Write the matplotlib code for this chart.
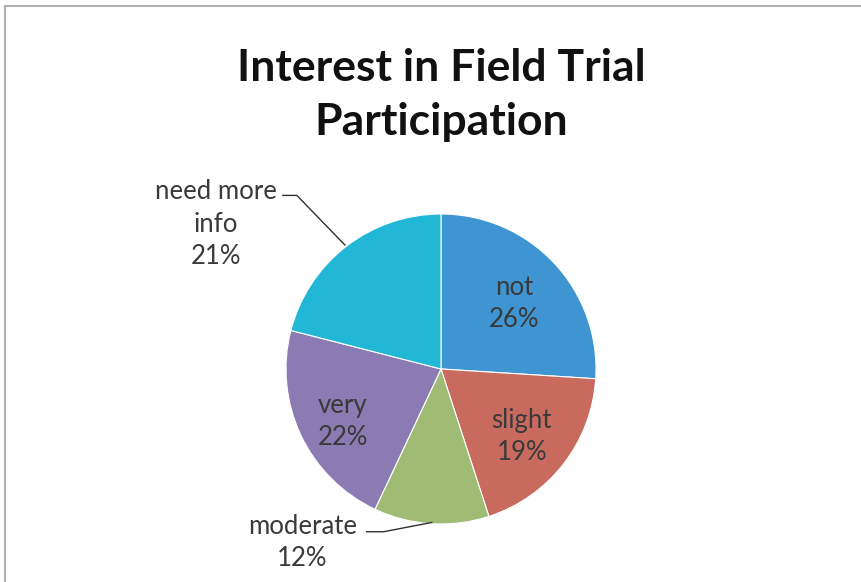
import matplotlib
matplotlib.use("Agg")
import matplotlib.pyplot as plt
from matplotlib.lines import Line2D
import numpy as np

categories = ["not", "slight", "moderate", "very", "need more info"]
values = [26, 19, 12, 22, 21]
colors = ["#3E95D2", "#C96A5F", "#9FBB74", "#8A7BB2", "#22B7D6"]

W, H = 862, 582
fig = plt.figure(figsize=(W / 100, H / 100), dpi=100)
fig.patch.set_facecolor("white")

# frame lines (top and left)
fig.add_artist(Line2D([5 / W, 1], [1 - 6 / H, 1 - 6 / H], color="#A0A0A0", lw=1.2))
fig.add_artist(Line2D([5 / W, 5 / W], [0, 1 - 6 / H], color="#A0A0A0", lw=1.2))

cx, cy, r = 441, 369, 155
ax = fig.add_axes([(cx - r) / W, (H - cy - r) / H, 2 * r / W, 2 * r / H])
wedges, _ = ax.pie(values, colors=colors, startangle=90, counterclock=False,
                   radius=1, wedgeprops=dict(linewidth=0.8, edgecolor="white"))
ax.set_xlim(-1, 1)
ax.set_ylim(-1, 1)
ax.set_aspect("equal")
ax.axis("off")

txtc = "#3A3A3A"
font = "Lato"
fs = 18.5
ls = 1.38
total = sum(values)
start = 90.0
# label radius and small vertical nudge (axes units)
inside = {"not": (0.645, -0.02), "slight": (0.66, -0.03), "very": (0.70, -0.04)}
for cat, v in zip(categories, values):
    ang = start - 360 * v / total / 2
    start -= 360 * v / total
    label = f"{cat}\n{v}%"
    if cat in inside:
        rr, dy = inside[cat]
        ax.text(rr * np.cos(np.radians(ang)), rr * np.sin(np.radians(ang)) + dy, label,
                ha="center", va="center", fontsize=fs, color=txtc, family=font,
                linespacing=ls)

# outside labels with leader lines
ax.text(-1.452, 0.935, "need more\ninfo\n21%", ha="center", va="center", fontsize=fs,
        color=txtc, family=font, linespacing=ls, clip_on=False)
ax.plot([-1.02, -0.93, -0.62], [1.12, 1.12, 0.80], color="#303030", lw=1.0, clip_on=False)

ax.text(-0.895, -1.12, "moderate\n12%", ha="center", va="center", fontsize=fs,
        color=txtc, family=font, linespacing=ls, clip_on=False)
ax.plot([-0.48, -0.37, -0.06], [-1.05, -1.05, -0.99], color="#303030", lw=1.0, clip_on=False)

fig.text(441 / W, 1 - 95 / H, "Interest in Field Trial\nParticipation", ha="center",
         va="center", fontsize=32, fontweight="bold", color="#111111", family="Lato",
         linespacing=1.45)

fig.savefig("out.png", dpi=100, facecolor="white")
